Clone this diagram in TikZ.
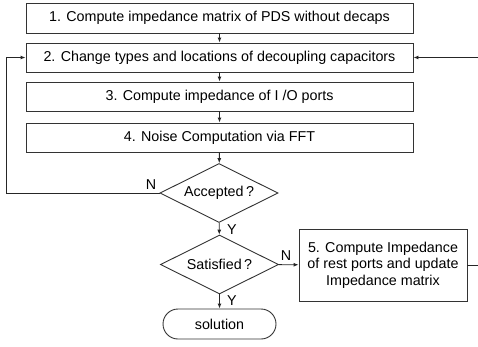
\documentclass[tikz,border=0pt]{standalone}
\usepackage{fontspec}
\setmainfont{Liberation Sans}
\usetikzlibrary{shapes.geometric,arrows.meta}
\begin{document}
\begin{tikzpicture}[x=1pt,y=-1pt,
  every node/.style={font=\fontsize{14.3}{16.5}\selectfont},
  stepbox/.style={draw=black!80,line width=0.9pt,minimum width=387pt,minimum height=29pt,inner sep=0pt},
  decision/.style={draw=black!80,line width=0.9pt,diamond,aspect=2,minimum width=118pt,minimum height=59pt,inner sep=0pt},
  flow/.style={draw=black!85,line width=0.9pt,-{Latex[length=5pt,width=4pt]}},
  lbl/.style={inner sep=0pt}]
\useasboundingbox (0,0) rectangle (478,346);
\node[stepbox,minimum height=30pt] (b1) at (219.5,18) {1. Compute impedance matrix of PDS without decaps};
\node[stepbox] (b2) at (219.5,57.5) {2. Change types and locations of decoupling capacitors};
\node[stepbox] (b3) at (219.5,96.5) {3. Compute impedance of I /O ports};
\node[stepbox] (b4) at (219.5,137.5) {4. Noise Computation via FFT};
\node[decision] (acc) at (219,193) {Accepted\,?};
\node[decision] (sat) at (219.5,264.5) {Satisfied\,?};
\node[draw=black!80,line width=0.9pt,minimum width=168pt,minimum height=72pt,inner sep=0pt,align=center] (b5) at (383,265) {5. Compute Impedance\\of rest ports and update\\Impedance matrix};
\node[draw=black!80,line width=0.9pt,rounded corners=15pt,minimum width=113pt,minimum height=30pt,inner sep=0pt] (sol) at (219.5,324) {solution};
\coordinate (lc) at (6,193);
\coordinate (rc) at (479,265);
\draw[flow] (b1) -- (b2);
\draw[flow] (b2) -- (b3);
\draw[flow] (b3) -- (b4);
\draw[flow] (b4) -- (acc);
\draw[flow] (acc) -- (sat);
\draw[flow] (sat) -- (sol);
\draw[flow] (sat) -- (b5);
\draw[flow] (acc.west) -- (lc) |- (b2.west);
\draw[flow] (b5.east) -- (rc) |- (b2.east);
\node[lbl] (n1) at (151,184.5) {N};
\node[lbl] (y1) at (232,229.5) {Y};
\node[lbl] (n2) at (286,256) {N};
\node[lbl] (y2) at (232,301) {Y};
\end{tikzpicture}
\end{document}
